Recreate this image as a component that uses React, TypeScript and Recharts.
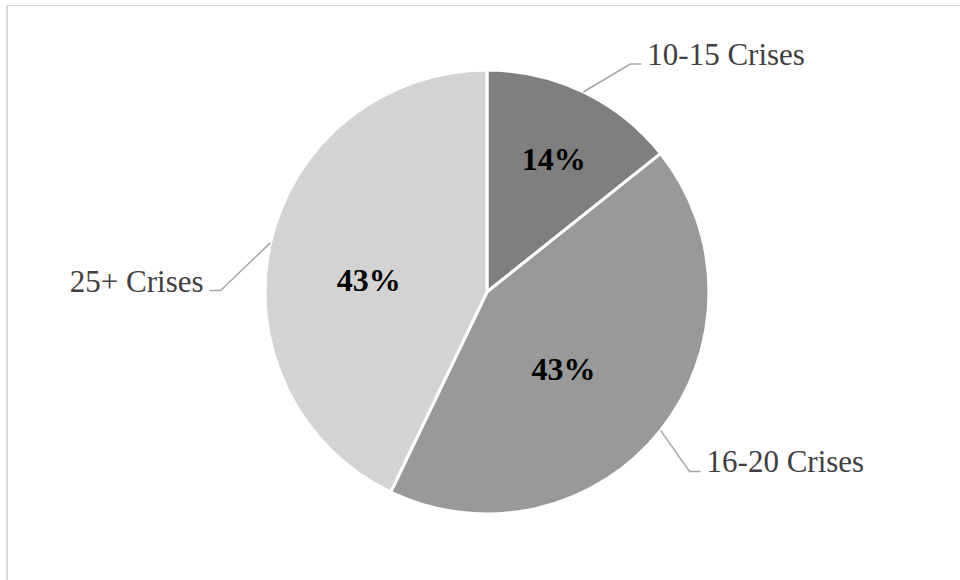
import React from "react";
import { PieChart, Pie, Cell } from "recharts";

// Crisis-count groups and their counts
const groups = ["10-15 Crises", "16-20 Crises", "25+ Crises"];
const counts = [1, 3, 3];
const sliceColors = ["#7f7f7f", "#999999", "#d3d3d3"];

const data = groups.map((name, i) => ({ name, value: counts[i] }));

const RAD = Math.PI / 180;
const FONT = '"Liberation Serif", "Times New Roman", serif';

// label placement: elbow offset from the slice edge, percent label radius/angle shift
const elbows = [
  { dx: 47, dy: -28 },
  { dx: 29, dy: 41 },
  { dx: -50, dy: 48 },
];
const inner = [
  { rf: 0.67, dA: -1 },
  { rf: 0.49, dA: -6.8 },
  { rf: 0.535, dA: 7.1 },
];

const renderLabel = (props: any) => {
  const { cx, cy, midAngle, outerRadius, percent, index, name } = props;
  const ex = cx + outerRadius * Math.cos(-midAngle * RAD);
  const ey = cy + outerRadius * Math.sin(-midAngle * RAD);
  const e = elbows[index];
  const bx = ex + e.dx;
  const by = ey + e.dy;
  const dir = e.dx >= 0 ? 1 : -1;
  const hx = bx + dir * 11;
  const tx = hx + dir * 6;

  const p = inner[index];
  const a = (midAngle + p.dA) * RAD;
  const px = cx + outerRadius * p.rf * Math.cos(-a);
  const py = cy + outerRadius * p.rf * Math.sin(-a);

  return (
    <g>
      <polyline
        points={`${ex},${ey} ${bx},${by} ${hx},${by}`}
        fill="none"
        stroke="#a6a6a6"
        strokeWidth={1.5}
      />
      <text
        x={tx}
        y={by + 1}
        textAnchor={dir > 0 ? "start" : "end"}
        fontFamily={FONT}
        fontSize={31}
        fill="#404040"
      >
        {name}
      </text>
      <text
        x={px}
        y={py}
        textAnchor="middle"
        dominantBaseline="central"
        fontFamily={FONT}
        fontSize={32}
        fontWeight="bold"
        fill="#000000"
      >
        {`${Math.round(percent * 100)}%`}
      </text>
    </g>
  );
};

export default function App() {
  return (
    <div style={{ position: "absolute", left: 0, top: 0, width: 960, height: 580, background: "#ffffff" }}>
      <div
        style={{
          position: "absolute",
          left: 6,
          top: 5,
          width: 960,
          height: 580,
          borderTop: "1px solid #d9d9d9",
          borderLeft: "2px solid #d9d9d9",
          boxSizing: "border-box",
        }}
      />
      <PieChart
        width={960}
        height={580}
        margin={{ top: 0, right: 0, bottom: 0, left: 0 }}
        style={{ position: "absolute", left: 0, top: 0 }}
      >
        <Pie
          data={data}
          dataKey="value"
          nameKey="name"
          cx={487}
          cy={292}
          outerRadius={222}
          startAngle={90}
          endAngle={-270}
          stroke="#ffffff"
          strokeWidth={3}
          label={renderLabel}
          labelLine={false}
          isAnimationActive={false}
        >
          {data.map((d, i) => (
            <Cell key={d.name} fill={sliceColors[i]} />
          ))}
        </Pie>
      </PieChart>
    </div>
  );
}
